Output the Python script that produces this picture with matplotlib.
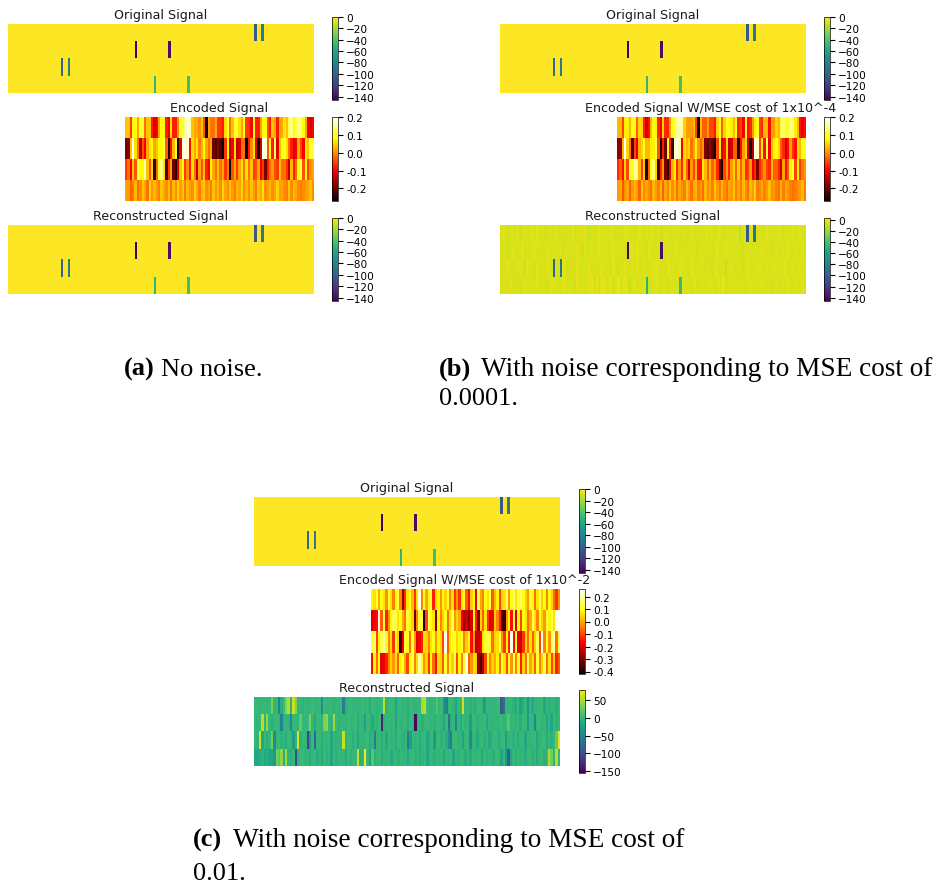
import numpy as np
import matplotlib
matplotlib.use("Agg")
import matplotlib.pyplot as plt

W, H = 936, 887

SPIKE_ROWS = [0, 0, 1, 1, 2, 2, 3, 3]
SPIKE_COLS = [103, 106, 53, 67, 22, 25, 61, 75]
SPIKE_VALS_ORIG = [-105, -88, -145, -140, -98, -88, -50, -45]

ENC_A0 = [4,4,-6,8,8,2,10,10,-2,4,4,-8,-12,-10,2,8,8,-8,-10,6,
 -8,-8,0,10,10,14,18,16,4,2,2,0,4,-4,-26,2,-2,-2,2,-6,
 -6,-8,6,10,-2,4,10,10,6,2,10,-6,-6,-10,8,-8,-8,2,8,8,
 -4,-8,4,2,-8,2,2,6,4,12,14,8,12,15,12,8,2,-10,-12,-10]
ENC_A1 = [-19,-18,4,19,6,-2,-14,-4,-10,2,6,8,2,4,8,8,12,-3,-26,-9,
 3,10,-25,-12,18,19,17,-9,6,2,6,-1,3,8,2,-2,2,-20,-22,-18,
 -22,-27,-6,8,-14,-10,6,-15,-12,-2,-2,-27,-8,0,6,-11,-27,-14,19,18,
 -4,8,-8,12,-12,4,8,10,6,-2,-8,-12,-10,2,-5,-10,6,4,10,10]
ENC_A2 = [-6,-2,-10,4,-4,12,8,8,16,4,-4,6,-24,-2,10,14,6,-22,-6,2,
 -20,-25,-12,4,8,-6,0,-8,6,-2,-14,2,-4,4,-8,-10,8,2,-2,4,
 -2,2,-6,-1,-27,-4,2,-6,2,6,-2,6,-2,4,-6,-4,2,-10,-6,-20,
 -8,-2,1,-4,-6,4,-2,-2,-6,-14,3,-8,-2,8,12,-4,8,-5,0,2]
ENC_A3 = [2,1,-3,-1,3,-2,0,4,2,-2,5,1,3,1,-1,4,2,0,4,-2,
 3,0,5,1,4,-1,3,1,0,5,2,-1,3,4,0,2,-1,4,1,3,
 0,5,2,0,4,1,-1,3,2,5,0,3,0,4,1,-1,4,2,6,0,
 1,3,0,2,5,1,2,0,-1,4,0,3,2,0,-1,0,1,2,4,0]

ENC_B0 = [3,3,-5,7,7,3,9,9,-3,5,5,-8,-13,-9,3,9,7,-7,-10,5,
 -7,-7,1,9,11,14,17,15,5,1,1,1,3,-5,-26,3,-3,-3,1,-5,
 -5,-8,5,9,-3,5,9,9,7,3,9,-7,-5,-10,9,-9,-7,1,7,9,
 -5,-7,3,3,-9,1,1,5,3,11,13,9,11,14,13,7,3,-9,-11,-9]
ENC_B1 = [-18,-17,3,20,5,-2,-22,-5,-11,3,5,9,3,3,7,7,11,-4,-26,-8,
 -20,9,-8,-24,17,19,16,-10,5,3,5,-2,2,7,1,-3,1,-19,-21,-17,
 -21,-26,-5,7,-13,-9,5,-14,-13,-3,-3,-26,-9,1,5,-12,-26,-15,19,17,
 -5,7,-9,11,-11,3,7,9,5,-3,-7,-13,-9,1,-6,-9,5,3,9,9]
ENC_B2 = [-7,-3,-9,5,-5,11,9,16,15,3,-5,5,-25,-3,9,13,5,-23,-7,1,
 -19,-24,-11,3,7,-7,1,-7,5,-3,-13,1,-5,3,-9,-9,7,3,-3,3,
 -3,1,-7,-20,-26,-5,1,-7,1,5,-3,5,-3,3,-7,-5,1,-11,-7,-19,
 -7,-3,0,-5,-7,3,-3,-3,-7,-13,2,-9,-3,7,11,-5,7,-6,-1,1]
ENC_B3 = [1,2,-4,0,2,-3,1,3,1,-3,4,0,2,0,-2,3,1,-1,3,-3,
 2,-1,4,0,3,-2,2,0,-1,4,1,-2,2,3,-1,1,-2,3,0,2,
 -1,4,1,-1,3,0,-2,2,1,4,-1,2,-1,3,0,-2,3,1,5,-1,
 0,2,-1,1,4,0,1,-1,-2,3,-1,2,1,-1,-2,-1,0,1,3,-1]

ENC_C0 = [8,6,12,0,10,6,-2,12,6,-4,8,14,-4,-28,-12,6,10,2,-12,6,
 24,-4,12,0,8,14,-14,4,8,-2,10,4,12,-4,6,-12,-2,-12,6,12,
 -8,-16,4,8,-20,14,0,-4,10,6,14,-8,2,8,-10,4,6,16,-2,10,
 18,6,12,16,10,4,-2,12,8,-6,6,14,4,10,-4,10,4,-6,-12,-2]
ENC_C1 = [-20,-18,-16,24,-8,12,-14,-2,8,14,14,6,10,0,-6,12,8,4,-32,-4,
 12,14,-38,-10,16,10,6,-30,8,-4,4,10,-6,6,14,-2,4,0,-18,-26,
 -22,-28,-20,8,-14,-30,4,-8,6,-12,-20,-18,4,-4,-14,-34,-38,-2,8,-16,
 12,-22,8,-10,10,6,-6,0,14,6,-4,10,4,-2,12,8,14,6,24,26]
ENC_C2 = [12,16,-10,8,14,20,10,-4,6,-12,10,4,-36,-18,14,10,-6,12,-2,-20,
 -18,-14,6,4,-4,6,10,-2,8,4,-10,25,-8,6,10,12,4,8,12,-4,4,8,-16,-2,
 -24,-22,-18,6,12,14,10,-6,4,6,14,-2,-12,8,-14,24,-16,10,-20,-22,-12,
 4,-6,6,-8,4,14,-10,25,-4,10,-2,14,22,-6,12]
ENC_C3 = [-16,8,-6,10,-20,-18,-14,-4,4,-2,6,-8,8,12,0,-10,8,14,-4,6,
 20,10,-2,4,-12,10,-6,-16,6,4,-8,12,-4,10,4,14,-10,8,-4,12,
 24,-8,-2,6,4,-28,-34,-26,-10,8,-4,4,0,8,-6,12,6,-10,10,-2,
 14,-4,10,-14,4,-6,14,0,6,-8,12,-4,4,14,-6,6,-10,4,-14,-8]

REC_B0 = [-6,-4,-6,-7,-5,-6,-6,-4,-8,-6,-5,-6,-6,-4,-6,-3,
 -6,-5,-6,-7,-6,-5,-6,-4,-6,-5,-6,-7,-5,-6,-4,-7,
 -6,-6,-5,-4,-6,-8,-5,-6,-6,-4,-6,-5,-6,-6,-4,-6,
 -7,-5,-6,-6,-4,-6,-5,-6,-7,-5,-3,-6,-6,-5,-6,-4,
 -6,-6,-5,-8,-6,-4,-6,-6,-5,-6,-4,-6,-6,-5,-7,-6,
 -4,-6,-6,-5,-6,-6,-4,-6,-5,-6,-6,-4,-6,-7,-5,-6,
 -6,-5,-6,-4,-12,-6,-5,-6,-6,-4,-6,-6,-5,-6,-7,-4,
 -6,-5,-6,-6,-4,-6,-7,-5,-6,-6,-4,-6,-5,-3,-6,-6]
REC_B1 = [-6,-5,-6,-8,-6,-4,-6,-5,-6,-3,-7,-6,-5,-6,-4,-6,
 -5,-7,-6,-6,-4,-6,-5,-6,-6,-5,-7,-4,-6,-6,-5,-6,
 -4,-6,-8,-5,-6,-6,-4,-6,-5,-3,-6,-6,-5,-7,-6,-4,
 -6,-5,-6,-6,-7,-5,-6,-4,-6,-3,-6,-5,-6,-7,-4,-6,
 -6,-5,-6,-6,-4,-6,-5,-6,-6,-4,-7,-6,-5,-6,-6,-4,
 -6,-5,-8,-6,-4,-6,-6,-5,-6,-7,-4,-6,-6,-5,-3,-6,
 -5,-6,-6,-4,-6,-7,-5,-6,-4,-6,-6,-5,-6,-4,-6,-6,
 -5,-7,-6,-4,-6,-6,-5,-6,-4,-6,-7,-5,-6,-6,-4,-6]
REC_B2 = [-6,-5,-6,-4,-6,-7,-5,-6,-4,-6,-10,-3,-6,-5,-7,-4,
 -6,-5,-6,-6,-4,-6,-5,-6,-6,-4,-3,-6,-7,-5,-6,-6,
 -4,-6,-5,-6,-6,-4,-7,-6,-5,-6,-4,-6,-6,-5,-6,-3,
 -6,-7,-5,-6,-4,-6,-6,-5,-6,-4,-7,-6,-5,-6,-6,-4,
 -6,-3,-6,-5,-6,-7,-4,-6,-5,-6,-6,-4,-6,-5,-7,-6,
 -4,-6,-5,-6,-4,-6,-6,-5,-7,-6,-4,-6,-5,-6,-10,-6,
 -4,-5,-6,-6,-5,-7,-6,-4,-6,-6,-5,-6,-4,-7,-6,-5,
 -6,-6,-4,-6,-5,-6,-6,-4,-7,-6,-5,-6,-6,-4,-6,-5]
REC_B3 = [-6,-6,-5,-6,-4,-6,-6,-5,-7,-6,-4,-6,-6,-5,-6,-4,
 -6,-5,-6,-7,-6,-4,-5,-6,-6,-5,-4,-6,-6,-5,-6,-7,
 -4,-6,-5,-6,-6,-4,-2,-7,-3,-8,-4,-2,-6,-4,-3,-7,
 -5,-2,-8,-4,-3,-6,-10,-5,-3,-6,-5,-6,-4,-6,-7,-5,
 -6,-4,-6,-6,-5,-6,-7,-4,-6,-5,-6,-6,-4,-6,-5,-6,
 -6,-4,-7,-6,-5,-6,-6,-4,-5,-6,-6,-4,-6,-2,-7,-6,
 -5,-6,-6,-4,-6,-5,-7,-6,-4,-6,-6,-5,-6,-4,-6,-6,
 -5,-7,-6,-4,-6,-6,-5,-6,-4,-6,-7,-5,-6,-6,-4,-6]

REC_C0 = [0,0,-2,0,0,-2,0,30,-3,0,-50,-8,2,36,50,-4,60,34,-2,0,
 -4,0,-3,0,4,-2,0,0,-40,2,-2,0,0,-4,0,-2,2,-55,-5,0,
 2,-2,0,-3,0,2,-2,0,-12,2,0,-3,0,2,55,-4,0,2,-2,-18,
 0,2,-2,0,-6,2,0,-3,0,-2,48,55,2,-4,-2,0,14,-3,2,-36,
 -55,0,2,-3,-18,0,2,62,-2,0,-4,0,-10,2,2,-2,-25,0,-3,0,
 -3,0,2,-88,-70,0,-2,0,-4,-12,2,-22,-8,0,-34,0,-12,0,-3,0,
 2,-16,2,-4,-2,0,-8,2]
REC_C1 = [0,-2,2,55,-3,40,0,-8,0,2,-2,-50,-2,0,-3,-45,0,0,-3,22,
 0,-2,2,30,-2,-14,2,0,-3,32,38,0,-2,45,0,-4,0,0,-3,2,
 -2,0,2,-8,0,-2,-22,2,0,-14,0,-3,2,-130,-4,0,2,-2,2,-18,
 0,-3,0,0,-10,2,-2,-150,-3,0,-8,0,2,-2,0,-4,0,2,-2,-16,
 2,-65,-6,0,-50,0,-10,2,-2,0,-24,0,2,-4,0,-2,2,-14,0,-3,
 0,-2,0,2,-4,0,18,-2,0,-3,0,-8,2,0,-28,2,-2,-45,0,2,
 -3,0,-14,0,-18,2,-4,0]
REC_C2 = [0,-3,60,-14,2,-8,0,28,-40,0,2,-4,0,-10,2,0,-24,-3,65,-6,
 0,0,-105,-24,2,-78,0,2,-8,0,-2,2,-14,0,-3,0,-4,58,-2,2,
 2,-10,0,-18,0,-2,0,2,-8,-2,-60,0,0,-4,2,-14,2,-2,0,-10,
 2,0,-6,0,-55,-24,2,-2,0,-8,0,2,-14,-2,2,-28,0,2,-4,0,
 -10,-34,-60,0,2,-3,0,-18,0,2,-45,-2,0,-12,0,2,-4,0,-14,-3,
 2,0,-8,0,2,-24,-2,0,-4,2,-10,0,2,-18,0,-3,0,2,-14,-3,
 0,2,-8,0,-4,2,22,70]
REC_C3 = [-14,-18,-10,-4,-14,-8,-18,-14,-30,28,18,38,-10,44,-3,-6,0,-100,-4,2,
 2,-3,0,-10,0,2,-8,0,-14,2,-4,0,-18,2,-6,0,-2,0,-10,2,
 -4,0,0,58,-8,-2,75,0,-22,18,-4,0,2,-10,0,-3,2,-12,0,0,
 -6,2,-2,0,-14,0,2,-4,0,-10,-3,2,-16,0,0,-6,2,-3,0,-12,
 0,-2,2,-18,0,-4,2,0,-8,0,-10,2,-3,0,2,-14,0,-4,0,-3,
 -8,2,0,-18,0,-24,-85,-14,0,-6,2,-3,0,-10,0,2,-4,0,-12,0,
 2,-8,0,48,28,-3,52,0]

TITLE_ORIG = "Original Signal"
TITLE_REC = "Reconstructed Signal"
TITLES_ENC = ["Encoded Signal", "Encoded Signal W/MSE cost of 1x10^-4",
              "Encoded Signal W/MSE cost of 1x10^-2"]
TICKS_SIGNAL = [0, -20, -40, -60, -80, -100, -120, -140]
TICKS_ENC_AB = [0.2, 0.1, 0.0, -0.1, -0.2]
TICKS_ENC_C = [0.2, 0.1, 0.0, -0.1, -0.2, -0.3, -0.4]
TICKS_REC_C = [50, 0, -50, -100, -150]

FS = 9.1
TICK_FS = 7.6
plt.rcParams["font.family"] = "DejaVu Sans"
fig = plt.figure(figsize=(W / 100, H / 100), dpi=100, facecolor="white")


def box(x0, y0, x1, y1):
    return [x0 / W, 1 - y1 / H, (x1 - x0) / W, (y1 - y0) / H]


def heat(data, rect, cbar_rect, cmap, vmin, vmax, ticks, title, fmt=None):
    ax = fig.add_axes(box(*rect))
    im = ax.imshow(data, aspect="auto", cmap=cmap, vmin=vmin, vmax=vmax,
                   interpolation="nearest")
    ax.axis("off")
    fig.text(title[1] / W, 1 - title[2] / H, title[0], fontsize=FS,
             ha="center", va="baseline", color="#1a1a1a")
    cax = fig.add_axes(box(*cbar_rect))
    cb = fig.colorbar(im, cax=cax, ticks=ticks, format=fmt)
    cb.ax.tick_params(labelsize=TICK_FS, length=3.5, width=0.8, pad=2.5)
    cb.outline.set_linewidth(0.5)


def original():
    grid = np.zeros((4, 128))
    grid[SPIKE_ROWS, SPIKE_COLS] = SPIKE_VALS_ORIG
    return grid


def with_spikes(rows):
    grid = np.array(rows, dtype=float)
    grid[SPIKE_ROWS, SPIKE_COLS] = SPIKE_VALS_ORIG
    return grid


def enc(rows):
    return np.array(rows, dtype=float) / 100


# panel (a)
heat(original(), (8, 25, 314, 94), (332, 18, 338, 101), "viridis", -146, 0,
     TICKS_SIGNAL, (TITLE_ORIG, 161, 19))
heat(enc([ENC_A0, ENC_A1, ENC_A2, ENC_A3]), (125, 118, 314, 202), (332, 118, 338, 202),
     "hot", -0.27, 0.2, TICKS_ENC_AB, (TITLES_ENC[0], 219, 112), "%.1f")
heat(original(), (8, 226, 314, 295), (332, 219, 338, 302), "viridis", -146, 0,
     TICKS_SIGNAL, (TITLE_REC, 161, 220))

# panel (b)
heat(original(), (500, 25, 806, 94), (824, 18, 830, 101), "viridis", -146, 0,
     TICKS_SIGNAL, (TITLE_ORIG, 653, 19))
heat(enc([ENC_B0, ENC_B1, ENC_B2, ENC_B3]), (617, 118, 806, 202), (824, 118, 830, 202),
     "hot", -0.27, 0.2, TICKS_ENC_AB, (TITLES_ENC[1], 711, 112), "%.1f")
heat(with_spikes([REC_B0, REC_B1, REC_B2, REC_B3]), (500, 226, 806, 295),
     (824, 219, 830, 302), "viridis", -146, 3, TICKS_SIGNAL, (TITLE_REC, 653, 220))

# panel (c)
heat(original(), (254, 498, 560, 567), (579, 490, 585, 574), "viridis", -146, 0,
     TICKS_SIGNAL, (TITLE_ORIG, 407, 492))
heat(enc([ENC_C0, ENC_C1, ENC_C2, ENC_C3]), (371, 590, 560, 675), (579, 590, 585, 675),
     "hot", -0.42, 0.26, TICKS_ENC_C, (TITLES_ENC[2], 465, 584), "%.1f")
heat(np.array([REC_C0, REC_C1, REC_C2, REC_C3], dtype=float), (254, 698, 560, 767),
     (579, 691, 585, 774), "viridis", -155, 78, TICKS_REC_C, (TITLE_REC, 407, 692))

# captions
CAP_FS = 19
CAP_WIDE_FS = 19.6
CAP_COLOR = "black"
SERIF = "Liberation Serif"
for label, x_label, body, x_body, y, fs in [
    ("(a)", 124, "No noise.", 161, 376, CAP_FS),
    ("(b)", 439, "With noise corresponding to MSE cost of", 481, 376, CAP_WIDE_FS),
    ("(c)", 193, "With noise corresponding to MSE cost of", 233, 847, CAP_WIDE_FS),
]:
    fig.text(x_label / W, 1 - y / H, label, family=SERIF, weight="bold",
             fontsize=CAP_FS, color=CAP_COLOR, va="baseline")
    fig.text(x_body / W, 1 - y / H, body, family=SERIF, fontsize=fs,
             color=CAP_COLOR, va="baseline")
fig.text(439 / W, 1 - 405 / H, "0.0001.", family=SERIF, fontsize=CAP_FS, color=CAP_COLOR)
fig.text(193 / W, 1 - 880 / H, "0.01.", family=SERIF, fontsize=CAP_FS, color=CAP_COLOR)

fig.savefig("out.png", dpi=100)
